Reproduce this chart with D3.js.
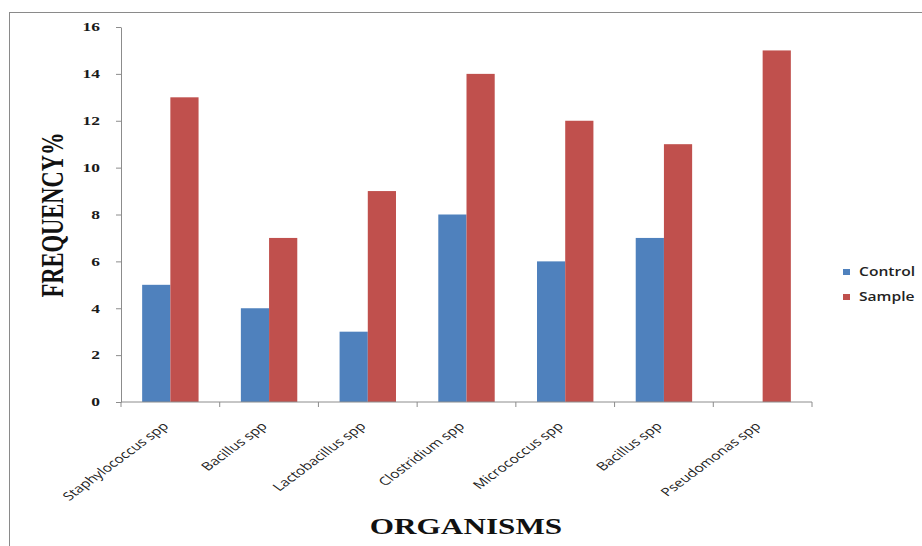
<!DOCTYPE html>
<html>
<head>
<meta charset="utf-8">
<script src="https://cdn.jsdelivr.net/npm/d3@7/dist/d3.min.js"></script>
<style>
  html, body { margin: 0; padding: 0; background: #fff; }
  svg { display: block; }
</style>
</head>
<body>
<svg id="chart" width="922" height="546"></svg>
<script>
// Organisms on the x axis
const organisms = [
  "Staphylococcus spp", "Bacillus spp", "Lactobacillus spp", "Clostridium spp",
  "Micrococcus spp", "Bacillus spp", "Pseudomonas spp"
];
// Frequency (%) per organism
const controlValues = [5, 4, 3, 8, 6, 7, 0];
const sampleValues  = [13, 7, 9, 14, 12, 11, 15];
const seriesNames = ["Control", "Sample"];
const yTicks = [0, 2, 4, 6, 8, 10, 12, 14, 16];

const colors = { Control: "#4F81BD", Sample: "#C0504D" };
const axisColor = "#8C8C8C";
// the chart is drawn horizontally widened; text gets the same stretch
const stretch = 1.35;

const svg = d3.select("#chart");

// outer frame
svg.append("rect")
  .attr("x", 9.5).attr("y", 12.5)
  .attr("width", 930).attr("height", 560)
  .attr("fill", "none").attr("stroke", "#8a8a8a").attr("stroke-width", 1);

const plot = { left: 121, right: 812, top: 27, bottom: 402 };

const x = d3.scaleBand()
  .domain(d3.range(organisms.length))
  .range([plot.left, plot.right])
  .paddingInner(0).paddingOuter(0);

const y = d3.scaleLinear().domain([0, 16]).range([plot.bottom, plot.top]);

// grouped bars: two bars per category, 150% gap width
const barW = x.bandwidth() / 3.5;
const sub = d3.scaleBand().domain(seriesNames)
  .range([x.bandwidth() * 0.75 / 3.5, x.bandwidth() * 0.75 / 3.5 + 2 * barW]);

const rows = organisms.map((name, i) => ({
  i, name, Control: controlValues[i], Sample: sampleValues[i]
}));

const groups = svg.append("g").selectAll("g")
  .data(rows).join("g")
  .attr("transform", d => `translate(${x(d.i)},0)`);

groups.selectAll("rect")
  .data(d => seriesNames.map(s => ({ s, v: d[s] })).filter(e => e.v > 0))
  .join("rect")
  .attr("x", e => sub(e.s))
  .attr("width", sub.bandwidth())
  .attr("y", e => y(e.v))
  .attr("height", e => y(0) - y(e.v))
  .attr("fill", e => colors[e.s]);

// y axis (line + ticks from d3, labels placed with stretch)
const yAxis = svg.append("g")
  .attr("transform", `translate(${plot.left},0)`)
  .call(d3.axisLeft(y).tickValues(yTicks).tickSize(5).tickSizeOuter(0).tickFormat(""));
yAxis.select(".domain").attr("stroke", axisColor);
yAxis.selectAll(".tick line").attr("stroke", axisColor);

svg.append("g").selectAll("text")
  .data(yTicks).join("text")
  .attr("transform", d => `translate(${plot.left - 21},${y(d)}) scale(${stretch + 0.05},1)`)
  .attr("text-anchor", "end")
  .attr("dy", "0.34em")
  .attr("fill", "#1a1a1a")
  .style("font-family", "'Liberation Serif', serif")
  .style("font-weight", "bold")
  .style("font-size", "12.5px")
  .text(d => d);

// x axis: tick marks at category boundaries
const xAxisG = svg.append("g").attr("transform", `translate(0,${plot.bottom})`);
xAxisG.append("line")
  .attr("x1", plot.left).attr("x2", plot.right)
  .attr("stroke", axisColor);
const boundaries = d3.range(organisms.length + 1).map(i =>
  i < organisms.length ? x(i) : x(i - 1) + x.bandwidth());
xAxisG.selectAll(".bt").data(boundaries).join("line")
  .attr("class", "bt")
  .attr("x1", d => d).attr("x2", d => d)
  .attr("y1", 0).attr("y2", 5)
  .attr("stroke", axisColor);

// category labels, rotated
svg.append("g").selectAll("text")
  .data(rows).join("text")
  .attr("transform", d => `translate(${x(d.i) + x.bandwidth() / 2 - 1},${plot.bottom + 25}) scale(${stretch},1) rotate(-45)`)
  .attr("text-anchor", "end")
  .attr("fill", "#222")
  .style("font-family", "'Open Sans', sans-serif")
  .style("font-size", "11.5px")
  .text(d => d.name);

// axis titles
svg.append("text")
  .attr("transform", `translate(466,534) scale(1.3,1)`)
  .attr("text-anchor", "middle")
  .style("font-family", "'Liberation Serif', serif")
  .style("font-weight", "bold")
  .style("font-size", "24px")
  .attr("fill", "#111")
  .text("ORGANISMS");

svg.append("text")
  .attr("transform", "translate(63,215) scale(1.4,1) rotate(-90)")
  .attr("text-anchor", "middle")
  .style("font-family", "'Liberation Serif', serif")
  .style("font-weight", "bold")
  .style("font-size", "22.5px")
  .attr("fill", "#111")
  .text("FREQUENCY%");

// legend
const legend = svg.append("g").attr("transform", "translate(843,272)");
const li = legend.selectAll("g").data(seriesNames).join("g")
  .attr("transform", (d, i) => `translate(0,${i * 25})`);
li.append("rect")
  .attr("x", 0).attr("y", -3).attr("width", 7).attr("height", 6)
  .attr("fill", d => colors[d]);
li.append("text")
  .attr("transform", `translate(16,0) scale(1.3,1)`)
  .attr("dy", "0.35em")
  .attr("fill", "#222")
  .style("font-family", "'Open Sans', sans-serif")
  .style("font-weight", "600")
  .style("font-size", "12px")
  .text(d => d);
</script>
</body>
</html>
